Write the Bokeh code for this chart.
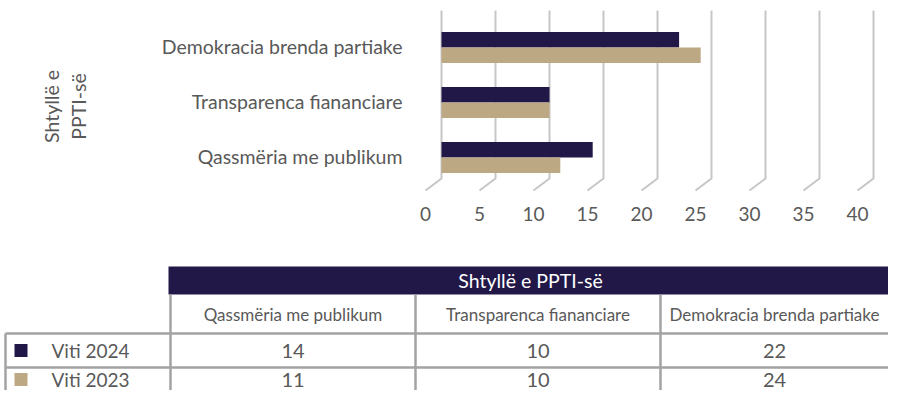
from bokeh.plotting import figure
from bokeh.models import Range1d
from bokeh.core.properties import value
from bokeh.embed import file_html
from bokeh.resources import INLINE
import math

# ---------------- data ----------------
categories = ["Qassmëria me publikum", "Transparenca fiananciare", "Demokracia brenda partiake"]
series_names = ["Viti 2024", "Viti 2023"]
values_2024 = [14, 10, 22]
values_2023 = [11, 10, 24]
ticks = [0, 5, 10, 15, 20, 25, 30, 35, 40]
tick_labels = [str(t) for t in ticks]
axis_title = ["Shtyllë e", "PPTI-së"]
table_title = "Shtyllë e PPTI-së"

# ---------------- styles ----------------
NAVY = "#221848"
TAN = "#BDA884"
TXT = "#595959"
GRID = "#C6C6C6"
TLINE = "#A3A3A3"
FONT = value("Lato")

W, H = 888, 390
X0 = 441.0      # px of value 0 (back wall)
PPU = 10.8      # px per unit
DEPTH_X, DEPTH_Y = 16, 12

p = figure(width=W, height=H, output_backend="svg", toolbar_location=None,
           x_range=Range1d(-X0 / PPU, (W - X0) / PPU),
           y_range=Range1d(H, 0),
           x_axis_type=None, y_axis_type=None, min_border=0,
           outline_line_color=None)
p.extra_x_ranges = {"px": Range1d(0, W)}
p.xgrid.visible = False
p.ygrid.visible = False
p.background_fill_color = "white"
p.border_fill_color = "white"

# 3D-looking gridlines
top_y, wall_y = 10, 178
xs = [[t, t, t - DEPTH_X / PPU] for t in ticks]
ys = [[top_y, wall_y, wall_y + DEPTH_Y] for t in ticks]
p.multi_line(xs=xs, ys=ys, line_color=GRID, line_width=2)

# bars
cat_step = 55
cat_base = 157
bar_h = 15.5
centers = [cat_base - cat_step * i for i in range(len(categories))]
p.hbar(y=[c - bar_h / 2 for c in centers], left=0, right=values_2024, height=bar_h,
       fill_color=NAVY, line_color=None)
p.hbar(y=[c + bar_h / 2 for c in centers], left=0, right=values_2023, height=bar_h,
       fill_color=TAN, line_color=None)

# tick labels (front edge)
p.text(x=ticks, y=[213] * len(ticks), text=tick_labels, x_offset=-DEPTH_X,
       text_align="center", text_baseline="middle", text_color=TXT,
       text_font=FONT, text_font_size="19px")

# category labels
p.text(x=[402] * len(categories), y=[c - 1 for c in centers], text=categories, x_range_name="px",
       text_align="right", text_baseline="middle", text_color=TXT,
       text_font=FONT, text_font_size="19.5px")

# axis title
p.text(x=[51, 78], y=[106, 106], text=axis_title, x_range_name="px", angle=math.pi / 2,
       text_align="center", text_baseline="middle", text_color=TXT,
       text_font=FONT, text_font_size="19.5px")

# ---------------- data table ----------------
t_left = 5
col_edges = [170, 415, 660, W]
col_text_x = [(col_edges[i] + col_edges[i + 1]) / 2 for i in range(3)]
hdr_top, hdr_bot = 266, 294
row_edges = [333, 367]
col_hdr_y = 314
row_text_y = [350, 379]

p.quad(left=[168], right=[W + 2], top=[hdr_top], bottom=[hdr_bot], x_range_name="px",
       fill_color=NAVY, line_color=None)
p.text(x=[530], y=[280], text=[table_title], x_range_name="px",
       text_align="center", text_baseline="middle", text_color="white",
       text_font=FONT, text_font_size="19.5px")

p.text(x=col_text_x, y=[col_hdr_y] * 3, text=categories, x_range_name="px",
       text_align="center", text_baseline="middle", text_color=TXT,
       text_font=FONT, text_font_size="17px")

# grid lines of table
seg_x0 = [t_left, t_left, t_left] + col_edges[:-1]
seg_x1 = [W + 2, W + 2, t_left] + col_edges[:-1]
seg_y0 = [row_edges[0], row_edges[1], row_edges[0]] + [hdr_bot] * 3
seg_y1 = [row_edges[0], row_edges[1], H + 2] + [H + 2] * 3
p.segment(x0=seg_x0, y0=seg_y0, x1=seg_x1, y1=seg_y1, x_range_name="px",
          line_color=TLINE, line_width=2.5)

rows = [values_2024, values_2023]
for r, vals in enumerate(rows):
    p.text(x=col_text_x, y=[row_text_y[r]] * 3, text=[str(v) for v in vals],
           x_range_name="px", text_align="center", text_baseline="middle",
           text_color=TXT, text_font=FONT, text_font_size="20px")

p.rect(x=[20.5, 20.5], y=row_text_y, width=13, height=13,
       width_units="screen", height_units="screen", x_range_name="px",
       fill_color=[NAVY, TAN], line_color=None)
p.text(x=[51, 51], y=row_text_y, text=series_names, x_range_name="px",
       text_align="left", text_baseline="middle", text_color=TXT,
       text_font=FONT, text_font_size="19px")

open("out.html", "w").write(file_html(p, INLINE))
